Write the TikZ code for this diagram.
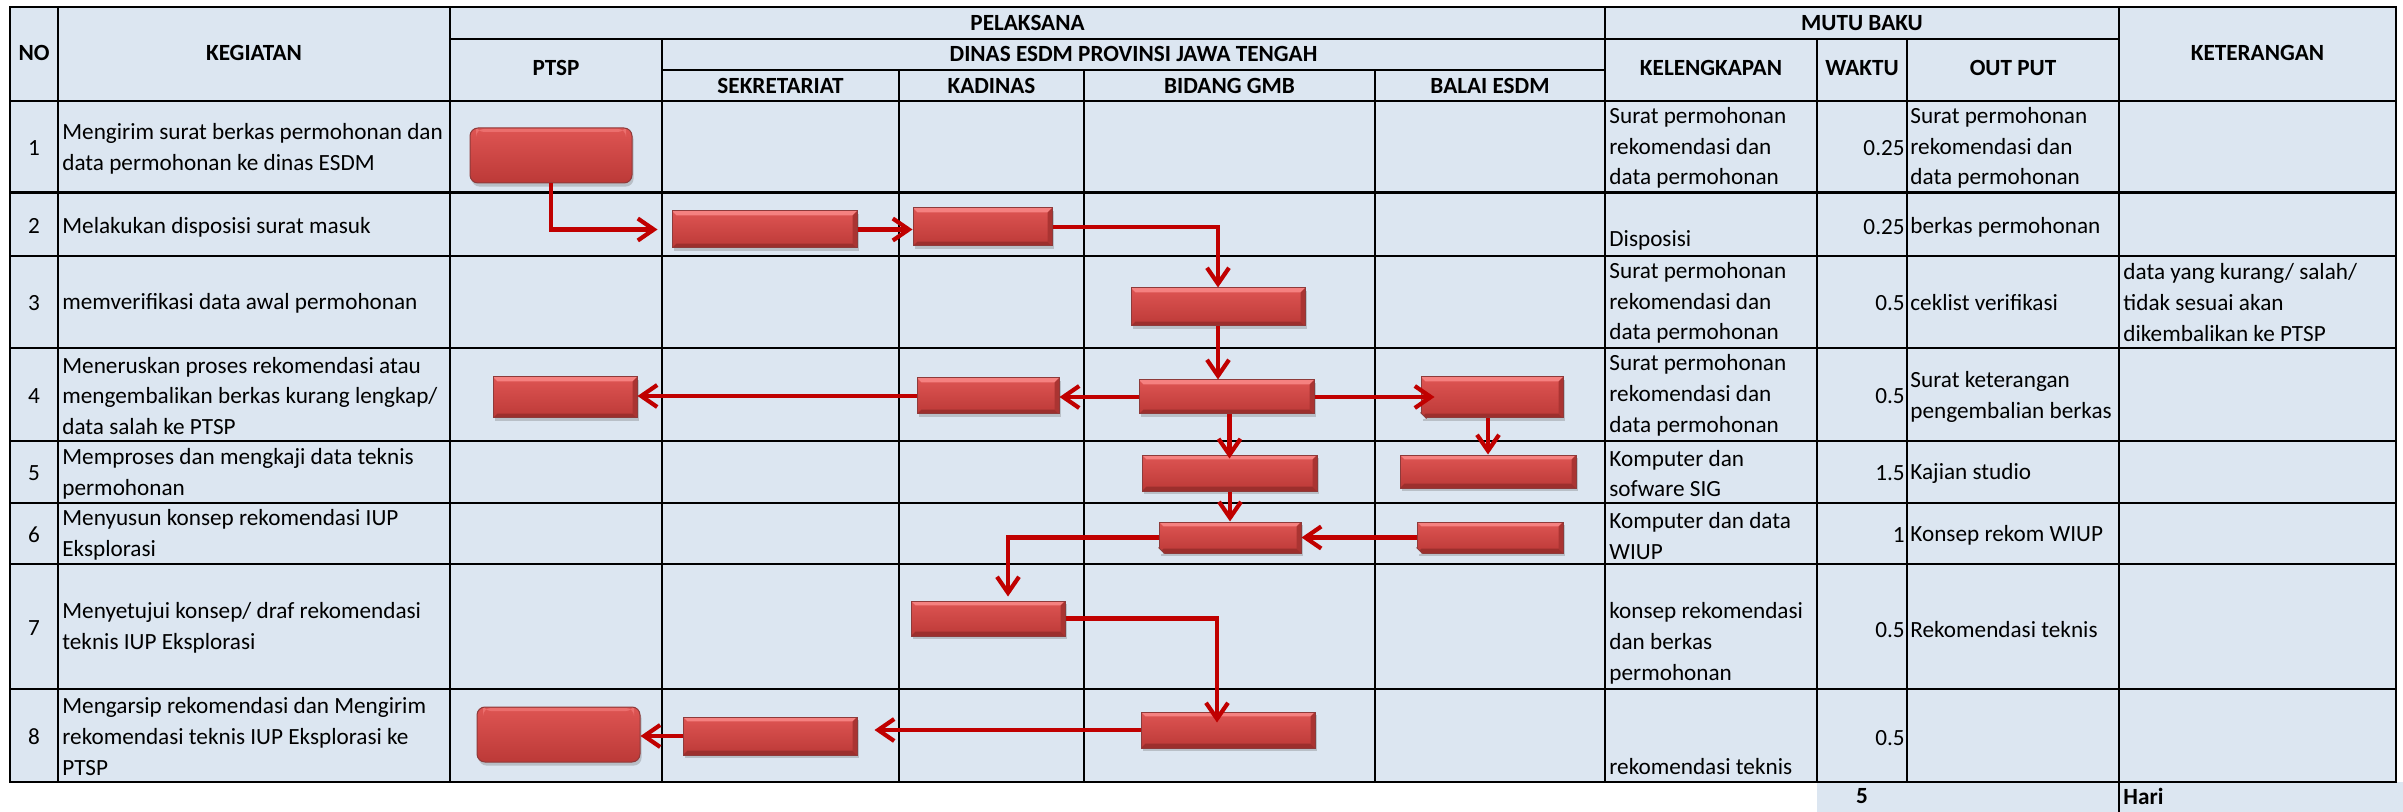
\documentclass[tikz,border=0pt]{standalone}
\usepackage{fontspec}
\setmainfont{Carlito}
\usetikzlibrary{arrows.meta,shadows,calc}
\definecolor{cellbg}{HTML}{DCE6F1}
\definecolor{arrowred}{HTML}{C00000}
\definecolor{boxtop}{HTML}{DE5553}
\definecolor{boxbot}{HTML}{BC3937}
\definecolor{boxedge}{HTML}{8E3A3A}
\definecolor{boxhi}{HTML}{F58180}
\definecolor{boxlo}{HTML}{9C2F2D}
\definecolor{boxside}{HTML}{AA3432}
\tikzset{
  gridline/.style={draw=black, line width=1.3pt, line cap=rect},
  hdr/.style={font=\bfseries\fontsize{11.6}{15.4}\selectfont, inner sep=0pt},
  txt/.style={font=\fontsize{11.6}{15.4}\selectfont, inner sep=0pt, align=left, anchor=west},
  num/.style={font=\fontsize{11.6}{15.4}\selectfont, inner sep=0pt},
  numr/.style={num, anchor=east},
  bevelbox/.style={draw=boxedge, line width=0.5pt, inner sep=0pt,
    top color=boxtop, bottom color=boxbot,
    drop shadow={shadow xshift=0.8pt, shadow yshift=-1.6pt, opacity=0.3, fill=black!60},
    path picture={
      \fill[boxhi] (path picture bounding box.north west) -- (path picture bounding box.north east)
        -- ([shift={(-2.2pt,-2.2pt)}]path picture bounding box.north east)
        -- ([shift={(2.2pt,-2.2pt)}]path picture bounding box.north west) -- cycle;
      \fill[boxlo] (path picture bounding box.south west) -- (path picture bounding box.south east)
        -- ([shift={(-2.2pt,2.2pt)}]path picture bounding box.south east)
        -- ([shift={(2.2pt,2.2pt)}]path picture bounding box.south west) -- cycle;
      \fill[boxside] (path picture bounding box.north east) -- (path picture bounding box.south east)
        -- ([shift={(-2.2pt,2.2pt)}]path picture bounding box.south east)
        -- ([shift={(-2.2pt,-2.2pt)}]path picture bounding box.north east) -- cycle;
    }},
  roundbox/.style={draw=boxedge, line width=0.5pt, inner sep=0pt, rounded corners=4pt,
    top color=boxtop, bottom color=boxbot,
    drop shadow={shadow xshift=0.8pt, shadow yshift=-1.8pt, opacity=0.3, fill=black!60},
    path picture={
      \fill[boxhi, opacity=0.6] ([shift={(3pt,-0.5pt)}]path picture bounding box.north west)
        rectangle ([shift={(-3pt,-2pt)}]path picture bounding box.north east);
    }},
  flow/.style={draw=arrowred, line width=2.1pt, -{Straight Barb[length=8pt,width=11pt]}},
}
\newcommand{\snipcorner}[1]{%
  \fill[cellbg] ([shift={(-0.6pt,-0.6pt)}]#1.south west) -- ([xshift=3pt]#1.south west) -- ([yshift=3pt]#1.south west) -- cycle;
  \draw[boxedge, line width=0.5pt] ([xshift=3pt]#1.south west) -- ([yshift=3pt]#1.south west);}
\begin{document}
\begin{tikzpicture}[x=0.5pt,y=-0.5pt]
\useasboundingbox (0,0) rectangle (2403,812);
% backgrounds
\fill[cellbg] (10,7) rectangle (2396,782);
\fill[cellbg] (1817,782) rectangle (2403,812);
% horizontal lines
\draw[gridline] (10,7) -- (2396,7);
\draw[gridline] (450,39) -- (2119,39);
\draw[gridline] (662,70) -- (1605,70);
\foreach \yy in {101,192.5,256,348,441,503,564,689,782}
  \draw[gridline] (10,\yy) -- (2396,\yy);
% vertical lines
\draw[gridline] (10,7) -- (10,782);
\draw[gridline] (58,7) -- (58,782);
\draw[gridline] (450,7) -- (450,782);
\draw[gridline] (662,39) -- (662,782);
\draw[gridline] (899,70) -- (899,782);
\draw[gridline] (1084,70) -- (1084,782);
\draw[gridline] (1375,70) -- (1375,782);
\draw[gridline] (1605,7) -- (1605,782);
\draw[gridline] (1817,39) -- (1817,782);
\draw[gridline] (1907,39) -- (1907,782);
\draw[gridline] (2119,7) -- (2119,812);
\draw[gridline] (2396,7) -- (2396,782);
% header texts
\node[hdr] (hNO) at (34,53) {NO};
\node[hdr] (hKEG) at (254,53) {KEGIATAN};
\node[hdr] (hPEL) at (1027.5,23) {PELAKSANA};
\node[hdr] (hPTSP) at (556,68) {PTSP};
\node[hdr] (hDIN) at (1133.5,54) {DINAS ESDM PROVINSI JAWA TENGAH};
\node[hdr] (hSEK) at (780.5,85.5) {SEKRETARIAT};
\node[hdr] (hKAD) at (991.5,85.5) {KADINAS};
\node[hdr] (hBID) at (1229.5,85.5) {BIDANG GMB};
\node[hdr] (hBAL) at (1490,85.5) {BALAI ESDM};
\node[hdr] (hMUT) at (1862,23) {MUTU BAKU};
\node[hdr] (hKEL) at (1711,68) {KELENGKAPAN};
\node[hdr] (hWAK) at (1862,68) {WAKTU};
\node[hdr] (hOUT) at (2013,68) {OUT PUT};
\node[hdr] (hKET) at (2257.5,53) {KETERANGAN};
% row numbers
\node[num] (n1) at (34,148) {1};
\node[num] (n2) at (34,226) {2};
\node[num] (n3) at (34,303) {3};
\node[num] (n4) at (34,396) {4};
\node[num] (n5) at (34,473) {5};
\node[num] (n6) at (34,535) {6};
\node[num] (n7) at (34,628) {7};
\node[num] (n8) at (34,737) {8};
% kegiatan
\node[txt] (k1) at (62,148.5) {Mengirim surat berkas permohonan dan\\data permohonan ke dinas ESDM};
\node[txt] (k2) at (62,227) {Melakukan disposisi surat masuk};
\node[txt] (k3) at (62,303) {memverifikasi data awal permohonan};
\node[txt] (k4) at (62,396) {Meneruskan proses rekomendasi atau\\mengembalikan berkas kurang lengkap/\\data salah ke PTSP};
\node[txt] (k5) at (62,473.5) {Memproses dan mengkaji data teknis\\permohonan};
\node[txt] (k6) at (62,535) {Menyusun konsep rekomendasi IUP\\Eksplorasi};
\node[txt] (k7) at (62,628) {Menyetujui konsep/ draf rekomendasi\\teknis IUP Eksplorasi};
\node[txt] (k8) at (62,736.5) {Mengarsip rekomendasi dan Mengirim\\rekomendasi teknis IUP Eksplorasi ke\\PTSP};
% kelengkapan
\node[txt] (l1) at (1609,148) {Surat permohonan\\rekomendasi dan\\data permohonan};
\node[txt] (l2) at (1609,240) {Disposisi};
\node[txt] (l3) at (1609,303) {Surat permohonan\\rekomendasi dan\\data permohonan};
\node[txt] (l4) at (1609,395.5) {Surat permohonan\\rekomendasi dan\\data permohonan};
\node[txt] (l5) at (1609,473.5) {Komputer dan\\sofware SIG};
\node[txt] (l6) at (1609,536) {Komputer dan data\\WIUP};
\node[txt] (l7) at (1609,643.5) {konsep rekomendasi\\dan berkas\\permohonan};
\node[txt] (l8) at (1609,767) {rekomendasi teknis};
% waktu
\node[numr] (w1) at (1905,148) {0.25};
\node[numr] (w2) at (1905,227) {0.25};
\node[numr] (w3) at (1905,303) {0.5};
\node[numr] (w4) at (1905,396.5) {0.5};
\node[numr] (w5) at (1905,473) {1.5};
\node[numr] (w6) at (1905,535) {1};
\node[numr] (w7) at (1905,630) {0.5};
\node[numr] (w8) at (1905,738) {0.5};
% output
\node[txt] (o1) at (1910,148) {Surat permohonan\\rekomendasi dan\\data permohonan};
\node[txt] (o2) at (1910,227) {berkas permohonan};
\node[txt] (o3) at (1910,303) {ceklist verifikasi};
\node[txt] (o4) at (1910,397) {Surat keterangan\\pengembalian berkas};
\node[txt] (o5) at (1910,473) {Kajian studio};
\node[txt] (o6) at (1910,535) {Konsep rekom WIUP};
\node[txt] (o7) at (1910,630) {Rekomendasi teknis};
% keterangan
\node[txt] (t3) at (2123,302.5) {data yang kurang/ salah/\\tidak sesuai akan\\dikembalikan ke PTSP};
% summary
\node[hdr] (sum) at (1862,796) {5};
\node[hdr, anchor=west] (hari) at (2123,796) {Hari};
% boxes
\node[roundbox, minimum width=81pt, minimum height=27.5pt] (B1) at (551,155.5) {};
\node[bevelbox, minimum width=92.5pt, minimum height=18.5pt] (B2) at (764.5,229.5) {};
\node[bevelbox, minimum width=69.5pt, minimum height=19pt] (B3) at (982.5,227) {};
\node[bevelbox, minimum width=87pt, minimum height=19pt] (B4) at (1218,307) {};
\node[bevelbox, minimum width=87.5pt, minimum height=17pt] (B5) at (1226.5,397) {};
\node[bevelbox, minimum width=71pt, minimum height=18pt] (B6) at (988,396) {};
\node[bevelbox, minimum width=72pt, minimum height=20.5pt] (B7) at (565,397.5) {};
\node[bevelbox, minimum width=71pt, minimum height=20.5pt] (B8) at (1492,397.5) {};
\snipcorner{B8}
\node[bevelbox, minimum width=87.5pt, minimum height=18pt] (B9) at (1229.5,473) {};
\node[bevelbox, minimum width=88pt, minimum height=16.5pt] (B10) at (1488,471.5) {};
\node[bevelbox, minimum width=71pt, minimum height=15.5pt] (B11) at (1230,537.5) {};
\snipcorner{B11}
\node[bevelbox, minimum width=73pt, minimum height=15.5pt] (B12) at (1490,537.5) {};
\snipcorner{B12}
\node[bevelbox, minimum width=77pt, minimum height=17.5pt] (B13) at (988,618.5) {};
\node[bevelbox, minimum width=87pt, minimum height=18pt] (B14) at (1228,730) {};
\node[bevelbox, minimum width=87pt, minimum height=19pt] (B15) at (770,736) {};
\node[roundbox, minimum width=81.5pt, minimum height=27.5pt] (B16) at (558.5,734.5) {};
% connectors
\draw[flow, shorten >=7pt] (B1.south) |- (B2.west);
\draw[flow] (B2.east) -- (B2.east -| B3.west);
\draw[flow] (B3.east) -| (B4.north);
\draw[flow] (B4.south) -- (B4.south |- B5.north);
\draw[flow] (B5.west) -- (B5.west -| B6.east);
\draw[flow] (B6.west) -- (B6.west -| B7.east);
\draw[flow, shorten >=-7pt] (B5.east) -- (B5.east -| B8.west);
\draw[flow, shorten >=-2pt] (B9.north |- B5.south) -- (B9.north);
\draw[flow] (B10.north |- B8.south) -- (B10.north);
\draw[flow] (B11.north |- B9.south) -- (B11.north);
\draw[flow] (B12.west) -- (B12.west -| B11.east);
\draw[flow, shorten >=2pt] (B11.west) -| ([xshift=10pt]B13.north);
\draw[flow] (B13.east) -| ([xshift=-5.5pt,yshift=-5.5pt]B14.north);
\draw[flow, shorten >=8.5pt] (B14.west) -- (B14.west -| B15.east);
\draw[flow] (B15.west) -- (B15.west -| B16.east);
\end{tikzpicture}
\end{document}
